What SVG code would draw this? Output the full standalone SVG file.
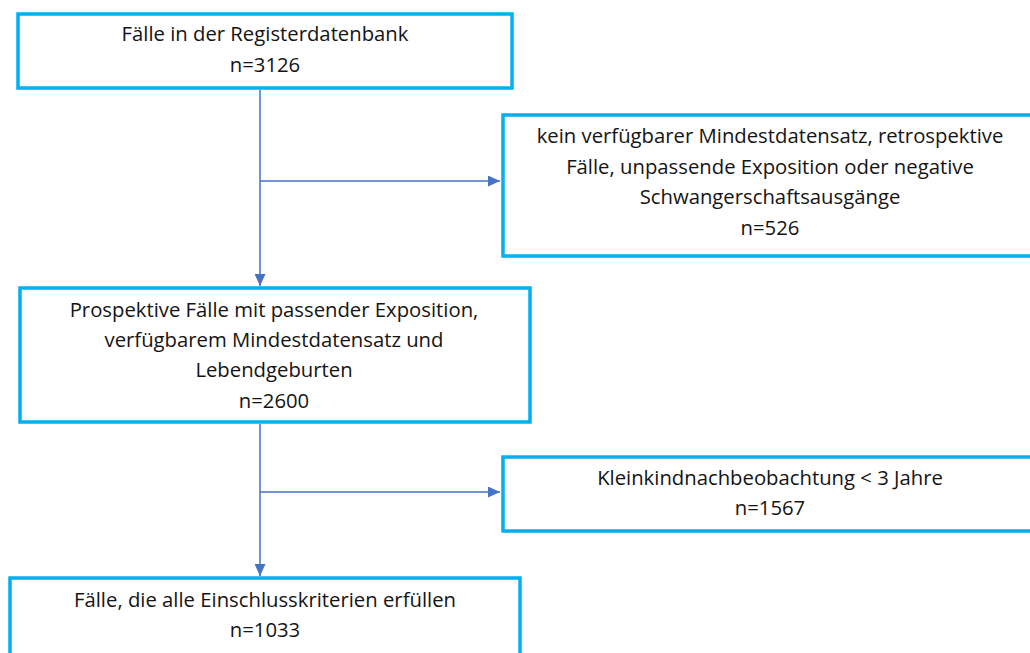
<svg xmlns="http://www.w3.org/2000/svg" width="1030" height="653" viewBox="0 0 1030 653">
  <style>
    .box { fill: #ffffff; stroke: #00b0f0; stroke-width: 3.5; }
    .lbl { font-family: "Open Sans", "Liberation Sans", sans-serif; font-size: 20.3px; fill: #141414; text-anchor: middle; }
    .conn { fill: none; stroke: #4472c4; stroke-width: 1.5; }
  </style>
  <defs>
    <marker id="arrowL" viewBox="0 0 10 10" refX="10" refY="5" markerWidth="12" markerHeight="11" markerUnits="userSpaceOnUse" orient="auto" preserveAspectRatio="none">
      <path d="M0,0 L10,5 L0,10 Z" fill="#4472c4"/>
    </marker>
  </defs>
  <rect width="1030" height="653" fill="#ffffff"/>

  <g id="connectors">
    <line class="conn" x1="260" y1="90" x2="260" y2="286" marker-end="url(#arrowL)"/>
    <line class="conn" x1="260" y1="181" x2="500" y2="181" marker-end="url(#arrowL)"/>
    <line class="conn" x1="260" y1="424" x2="260" y2="576" marker-end="url(#arrowL)"/>
    <line class="conn" x1="260" y1="492" x2="500" y2="492" marker-end="url(#arrowL)"/>
  </g>

  <g id="node-register">
    <rect class="box" x="18" y="14" width="494" height="74"/>
    <text class="lbl" x="265" y="41">Fälle in der Registerdatenbank</text>
    <text class="lbl" x="265" y="72">n=3126</text>
  </g>

  <g id="node-excluded-1">
    <rect class="box" x="503" y="115" width="540" height="141"/>
    <text class="lbl" x="770" y="143">kein verfügbarer Mindestdatensatz, retrospektive</text>
    <text class="lbl" x="770" y="174">Fälle, unpassende Exposition oder negative</text>
    <text class="lbl" x="770" y="204">Schwangerschaftsausgänge</text>
    <text class="lbl" x="770" y="235">n=526</text>
  </g>

  <g id="node-prospective">
    <rect class="box" x="20" y="288" width="510" height="134"/>
    <text class="lbl" x="274" y="317">Prospektive Fälle mit passender Exposition,</text>
    <text class="lbl" x="274" y="347">verfügbarem Mindestdatensatz und</text>
    <text class="lbl" x="274" y="377">Lebendgeburten</text>
    <text class="lbl" x="274" y="408">n=2600</text>
  </g>

  <g id="node-excluded-2">
    <rect class="box" x="503" y="457" width="540" height="74"/>
    <text class="lbl" x="770" y="485">Kleinkindnachbeobachtung &lt; 3 Jahre</text>
    <text class="lbl" x="770" y="515">n=1567</text>
  </g>

  <g id="node-included">
    <rect class="box" x="10" y="578" width="510" height="100"/>
    <text class="lbl" x="265" y="607">Fälle, die alle Einschlusskriterien erfüllen</text>
    <text class="lbl" x="265" y="637">n=1033</text>
  </g>
</svg>
